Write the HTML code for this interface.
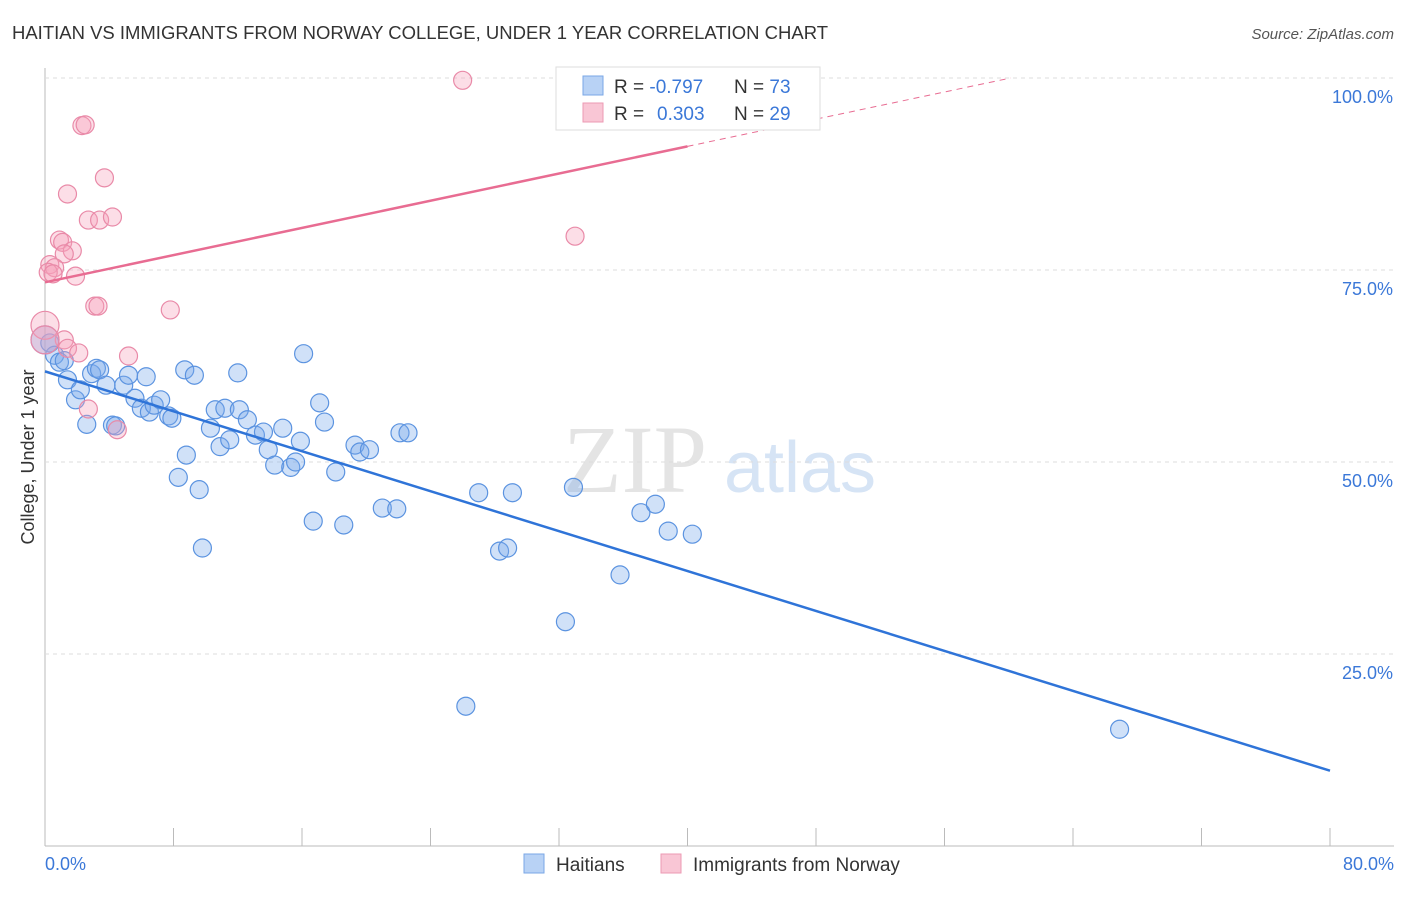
<!DOCTYPE html>
<html><head><meta charset="utf-8"><style>
body{margin:0;background:#fff;font-family:"Liberation Sans",sans-serif;}
</style></head><body>
<svg id="c" width="1406" height="892" xmlns="http://www.w3.org/2000/svg" style="font-family:'Liberation Sans',sans-serif">
<text x="12" y="39" font-size="18" fill="#333" textLength="816" lengthAdjust="spacingAndGlyphs">HAITIAN VS IMMIGRANTS FROM NORWAY COLLEGE, UNDER 1 YEAR CORRELATION CHART</text>
<text x="1394" y="39" font-size="15" fill="#555" font-style="italic" text-anchor="end">Source: ZipAtlas.com</text>
<text x="635" y="492" font-size="96" fill="#e4e4e4" font-family="Liberation Serif,serif" text-anchor="middle">ZIP</text>
<text x="800" y="492" font-size="72" fill="#d6e4f5" text-anchor="middle">atlas</text>
<g id="grid"></g>
<g id="pts"></g>
<g id="lines"></g>
<text transform="translate(34,457) rotate(-90)" font-size="18" fill="#333" text-anchor="middle">College, Under 1 year</text>
<text x="45" y="870" font-size="18" fill="#3b78d8">0.0%</text>
<text x="1394" y="870" font-size="18" fill="#3b78d8" text-anchor="end">80.0%</text>
<g>
<rect x="556" y="67" width="264" height="63" fill="#fff" stroke="#ddd"/>
<rect x="583" y="76" width="20" height="19" fill="#b8d2f5" stroke="#7aa7e6"/>
<rect x="583" y="103" width="20" height="19" fill="#f9c6d5" stroke="#ec9ab3"/>
<text x="614" y="93" font-size="19" fill="#333">R = <tspan fill="#3b78d8">-0.797</tspan></text>
<text x="734" y="93" font-size="19" fill="#333">N = <tspan fill="#3b78d8">73</tspan></text>
<text x="614" y="120" font-size="19" fill="#333">R = <tspan fill="#3b78d8" x="657">0.303</tspan></text>
<text x="734" y="120" font-size="19" fill="#333">N = <tspan fill="#3b78d8">29</tspan></text>
</g>
<g>
<rect x="524" y="854" width="20" height="19" fill="#b8d2f5" stroke="#7aa7e6"/>
<text x="556" y="871" font-size="19" fill="#333">Haitians</text>
<text x="693" y="871" font-size="19" fill="#333">Immigrants from Norway</text>
<rect x="661" y="854" width="20" height="19" fill="#f9c6d5" stroke="#ec9ab3"/>
</g>
</svg>
<script>
const blueX=[0.3,0.6,0.9,1.2,1.4,1.9,2.2,2.6,2.9,3.2,3.4,3.8,4.2,4.4,4.9,5.2,5.6,6.0,6.3,6.5,6.8,7.2,7.7,7.9,8.3,8.7,8.8,9.3,9.6,9.8,10.3,10.6,10.9,11.2,11.5,12.0,12.1,12.6,13.1,13.6,13.9,14.3,14.8,15.3,15.6,15.9,16.1,16.7,17.1,17.4,18.1,18.6,19.3,19.6,20.2,21.0,21.9,22.1,22.6,26.2,27.0,28.3,28.8,29.1,32.4,32.9,35.8,37.1,38.0,38.8,40.3,66.9,0];
const blueY=[65.5,63.9,63.0,63.2,60.7,58.1,59.4,54.9,61.5,62.2,62.0,60.0,54.8,54.7,60.0,61.3,58.3,57.0,61.1,56.5,57.4,58.1,56.0,55.7,48.0,62.0,50.9,61.3,46.4,38.8,54.4,56.8,52.0,57.0,52.9,61.6,56.8,55.5,53.5,53.9,51.6,49.6,54.4,49.3,50.0,52.7,64.1,42.3,57.7,55.2,48.7,41.8,52.2,51.3,51.6,44.0,43.9,53.8,53.8,18.2,46.0,38.4,38.8,46.0,29.2,46.7,35.3,43.4,44.5,41.0,40.6,15.2,65.9];
const pinkX=[26.0,2.3,2.5,3.7,1.4,2.7,3.4,4.2,0.9,1.1,1.7,1.2,0.3,0.6,0.2,0.5,1.9,33.0,3.1,3.3,7.8,0,1.2,1.4,2.1,5.2,2.7,4.5,0];
const pinkY=[99.7,93.8,93.9,87.0,84.9,81.5,81.5,81.9,78.9,78.6,77.5,77.1,75.7,75.3,74.7,74.5,74.2,79.4,70.3,70.3,69.8,67.8,65.9,64.8,64.2,63.8,56.9,54.2,65.9];
const yTicks=[25,50,75,100];
const xTicks=[0,8,16,24,32,40,48,56,64,72,80];
const blueTrend=[61.8,9.8];
const pinkTrend=[73.4,91.1,100];
const X=v=>45+v*16.0625, Y=v=>846-v*7.68;
const NS="http://www.w3.org/2000/svg";
function mk(t,a,p){const e=document.createElementNS(NS,t);for(const k in a)e.setAttribute(k,a[k]);p.appendChild(e);return e;}
const g=document.getElementById('grid');
let ax=mk('line',{x1:45,y1:68,x2:45,y2:846,stroke:'#bbb'},g);


let bx=mk('line',{x1:45,y1:846,x2:1394,y2:846,stroke:'#bbb'},g);


yTicks.forEach(t=>{
 const l=mk('line',{x1:45,x2:1394,y1:Y(t),y2:Y(t),stroke:'#ddd','stroke-dasharray':'4,4'},g);
 
 
 const tx=mk('text',{x:1393,y:Y(t)+25,'font-size':18,fill:'#3b78d8','text-anchor':'end'},g);
 tx.textContent=t.toFixed(1)+'%';
 
 
});
xTicks.forEach(t=>{
 const l=mk('line',{x1:X(t),x2:X(t),y1:828,y2:846,stroke:'#bbb'},g);
 
 
});
const p=document.getElementById('pts');
blueX.forEach((x,i)=>{
 const c=mk('circle',{cx:X(x),cy:Y(blueY[i]),r:x===0?14:9,fill:'rgba(120,170,235,0.35)',stroke:'#5b93e0','stroke-width':1.2},p);
 
 
});
pinkX.forEach((x,i)=>{
 const c=mk('circle',{cx:X(x),cy:Y(pinkY[i]),r:x===0?14:9,fill:'rgba(245,160,185,0.35)',stroke:'#e98aa8','stroke-width':1.2},p);
 
 
});
const L=document.getElementById('lines');
let b=mk('line',{x1:X(0),y1:Y(blueTrend[0]),x2:X(80),y2:Y(blueTrend[1]),stroke:'#2f74d8','stroke-width':2.5},L);


let pk=mk('line',{x1:X(0),y1:Y(pinkTrend[0]),x2:X(40),y2:Y(pinkTrend[1]),stroke:'#e86c92','stroke-width':2.5},L);


const slope=(pinkTrend[1]-pinkTrend[0])/40, xe=(pinkTrend[2]-pinkTrend[0])/slope;
let pd=mk('line',{x1:X(40),y1:Y(pinkTrend[1]),x2:X(xe),y2:Y(pinkTrend[2]),stroke:'#e86c92','stroke-width':1,'stroke-dasharray':'6,5'},L);


</script>
</body></html>
